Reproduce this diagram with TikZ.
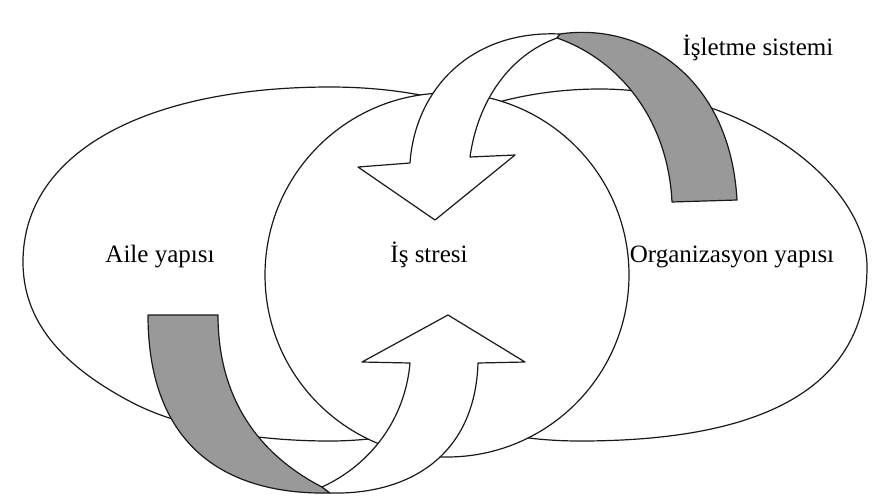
\documentclass[tikz,border=0pt]{standalone}
\usepackage{fontspec}
\setmainfont{Liberation Serif}
\begin{document}
\begin{tikzpicture}[x=1pt,y=-1pt,
  outline/.style={draw=black!90, line width=1.2pt, line join=round},
  region/.style={outline, fill=white},
  backside/.style={outline, fill=black!40},
  textlabel/.style={anchor=base, inner sep=0pt, font=\fontsize{25}{29}\selectfont}]
\useasboundingbox (0,0) rectangle (873,499);

% left oval: family structure
\path[region] (330,87) .. controls (150,87) and (23,150) .. (23,262)
  .. controls (23,320) and (60,365) .. (133,403)
  .. controls (180,427) and (250,441) .. (330,441)
  .. controls (450,441) and (600,380) .. (600,264)
  .. controls (600,140) and (470,87) .. (330,87) -- cycle;

% right oval: organisation structure
\path[region] (600,89) .. controls (740,89) and (867,180) .. (867,267)
  .. controls (867,390) and (760,441) .. (580,441)
  .. controls (420,441) and (340,360) .. (340,265)
  .. controls (345,150) and (470,89) .. (600,89) -- cycle;

% central circle: job stress
\path[region] (447,275) circle[radius=182];

\node[textlabel] (aile) at (160,262) {Aile yapısı};
\node[textlabel] (stres) at (429,262) {İş stresi};
\node[textlabel] (org) at (732,262) {Organizasyon yapısı};
\node[textlabel] (isletme) at (758,55) {İşletme sistemi};

% upper twisted ribbon arrow, pointing down into the circle
\path[region] (560,34) .. controls (470,30) and (415,90) .. (410,163)
  -- (358,167) -- (435,220) -- (515,155) -- (470,157)
  .. controls (478,100) and (510,55) .. (557,38) -- cycle;
\path[backside] (560,34) .. controls (640,22) and (730,75) .. (737,200)
  -- (672,202) .. controls (668,120) and (620,60) .. (557,38) -- cycle;

% lower twisted ribbon arrow, pointing up into the circle
\path[backside] (148,315) .. controls (148,450) and (230,495) .. (330,493)
  -- (322,487) .. controls (260,455) and (218,400) .. (218,315) -- cycle;
\path[region] (322,487) .. controls (370,465) and (405,420) .. (410,363)
  -- (362,362) -- (448,315) -- (525,362) -- (478,363)
  .. controls (475,455) and (410,495) .. (330,493) -- cycle;
\end{tikzpicture}
\end{document}
